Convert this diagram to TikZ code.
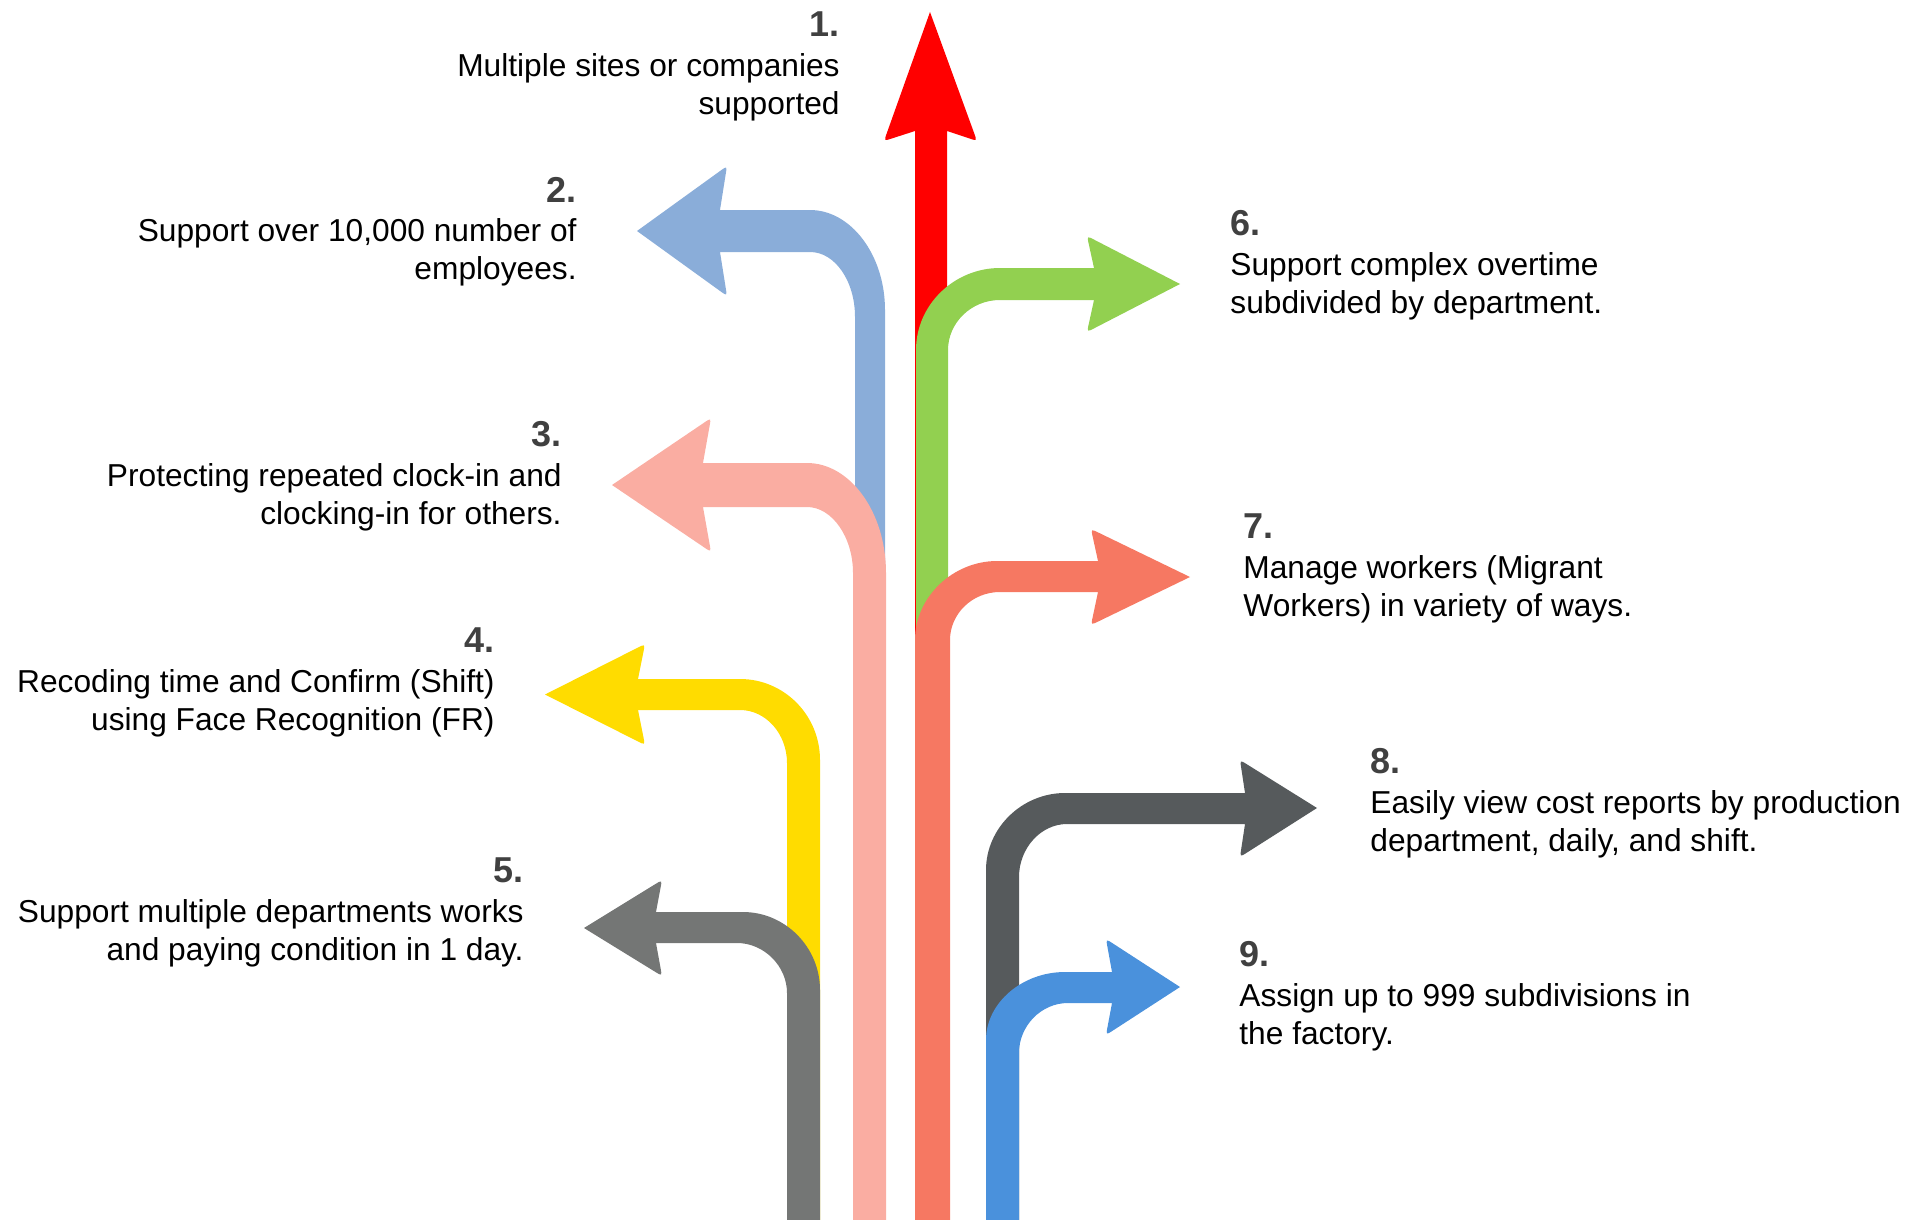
\documentclass[tikz,border=0pt]{standalone}
\usepackage{fontspec}
\setmainfont{Liberation Sans}
\usetikzlibrary{calc}
\definecolor{cRed}{HTML}{FF0000}
\definecolor{cBlueA}{HTML}{8AADD9}
\definecolor{cPink}{HTML}{FAADA2}
\definecolor{cYellow}{HTML}{FFDC00}
\definecolor{cGrayA}{HTML}{747675}
\definecolor{cGreen}{HTML}{92D050}
\definecolor{cCoral}{HTML}{F67862}
\definecolor{cGrayB}{HTML}{565A5C}
\definecolor{cBlueB}{HTML}{4A91DC}
\definecolor{cNum}{HTML}{404040}
\begin{document}
\begin{tikzpicture}[x=0.5pt,y=-0.5pt,
  numlbl/.style={inner sep=0pt, text=cNum, font=\fontsize{18pt}{21pt}\selectfont\bfseries},
  txtlbl/.style={inner sep=0pt, text=black, font=\fontsize{15.85pt}{19pt}\selectfont},
  leftlbl/.style={anchor=base east},
  rightlbl/.style={anchor=base west}]
\useasboundingbox (0,0) rectangle (1921,1220);

% ---------- 1 red (up) ----------
\coordinate (t1) at (930,12);
\coordinate (w1a) at (884,141);
\coordinate (w1b) at (977,141);
\coordinate (n1a) at (915,131);
\coordinate (n1b) at (947,131);
\fill[cRed] (915,1220) -- (n1a) -- ($(w1a)!4pt!(n1a)$) .. controls (w1a) .. ($(w1a)!4pt!(t1)$) -- (t1)
  -- ($(w1b)!4pt!(t1)$) .. controls (w1b) .. ($(w1b)!4pt!(n1b)$) -- (n1b) -- (947,1220) -- cycle;

% ---------- 6 green (right) ----------
\coordinate (t6) at (1180,284);
\coordinate (w6a) at (1087,236);
\coordinate (n6a) at (1094,268);
\coordinate (n6b) at (1094,300);
\coordinate (w6b) at (1087,332);
\fill[cGreen] (916,1220) -- (916,350) .. controls (916,305) and (954,268) .. (1000,268) -- (n6a)
  -- ($(w6a)!4pt!(n6a)$) .. controls (w6a) .. ($(w6a)!4pt!(t6)$) -- (t6)
  -- ($(w6b)!4pt!(t6)$) .. controls (w6b) .. ($(w6b)!4pt!(n6b)$) -- (n6b)
  -- (1000,300) .. controls (971,300) and (948,323) .. (948,350) -- (948,1220) -- cycle;

% ---------- 7 coral (right) ----------
\coordinate (t7) at (1190,577);
\coordinate (w7a) at (1091,529);
\coordinate (n7a) at (1098,561);
\coordinate (n7b) at (1098,592);
\coordinate (w7b) at (1091,625);
\fill[cCoral] (915,1220) -- (915,640) .. controls (915,597) and (953,561) .. (997,561) -- (n7a)
  -- ($(w7a)!4pt!(n7a)$) .. controls (w7a) .. ($(w7a)!4pt!(t7)$) -- (t7)
  -- ($(w7b)!4pt!(t7)$) .. controls (w7b) .. ($(w7b)!4pt!(n7b)$) -- (n7b)
  -- (1000,592) .. controls (972,592) and (950,614) .. (950,640) -- (950,1220) -- cycle;

% ---------- 2 light blue (left) ----------
\coordinate (t2) at (637,231);
\coordinate (w2a) at (727,166);
\coordinate (n2a) at (720,210);
\coordinate (n2b) at (720,252);
\coordinate (w2b) at (727,296);
\fill[cBlueA] (855,1220) -- (855,317) .. controls (855,281) and (835,252) .. (810,252) -- (n2b)
  -- ($(w2b)!4pt!(n2b)$) .. controls (w2b) .. ($(w2b)!4pt!(t2)$) -- (t2)
  -- ($(w2a)!4pt!(t2)$) .. controls (w2a) .. ($(w2a)!4pt!(n2a)$) -- (n2a)
  -- (810,210) .. controls (851,210) and (885,255) .. (885,310) -- (885,1220) -- cycle;

% ---------- 3 pink (left) ----------
\coordinate (t3) at (612,485);
\coordinate (w3a) at (711,418);
\coordinate (n3a) at (703,463);
\coordinate (n3b) at (703,507);
\coordinate (w3b) at (711,552);
\fill[cPink] (853,1220) -- (853,573) .. controls (853,537) and (832,507) .. (807,507) -- (n3b)
  -- ($(w3b)!4pt!(n3b)$) .. controls (w3b) .. ($(w3b)!4pt!(t3)$) -- (t3)
  -- ($(w3a)!4pt!(t3)$) .. controls (w3a) .. ($(w3a)!4pt!(n3a)$) -- (n3a)
  -- (807,463) .. controls (850,463) and (886,512) .. (886,573) -- (886,1220) -- cycle;

% ---------- 4 yellow (left) ----------
\coordinate (t4) at (545,694.5);
\coordinate (w4a) at (645,644);
\coordinate (n4a) at (638,679);
\coordinate (n4b) at (638,710);
\coordinate (w4b) at (645,745);
\fill[cYellow] (787,1220) -- (787,763) .. controls (787,734) and (766,710) .. (740,710) -- (n4b)
  -- ($(w4b)!4pt!(n4b)$) .. controls (w4b) .. ($(w4b)!4pt!(t4)$) -- (t4)
  -- ($(w4a)!4pt!(t4)$) .. controls (w4a) .. ($(w4a)!4pt!(n4a)$) -- (n4a)
  -- (740,679) .. controls (784,679) and (820,715) .. (820,760) -- (820,1220) -- cycle;

% ---------- 5 gray (left) ----------
\coordinate (t5) at (584,928);
\coordinate (w5a) at (662,880);
\coordinate (n5a) at (656,912);
\coordinate (n5b) at (656,943);
\coordinate (w5b) at (662,976);
\fill[cGrayA] (787,1220) -- (787,993) .. controls (787,966) and (764,943) .. (737,943) -- (n5b)
  -- ($(w5b)!4pt!(n5b)$) .. controls (w5b) .. ($(w5b)!4pt!(t5)$) -- (t5)
  -- ($(w5a)!4pt!(t5)$) .. controls (w5a) .. ($(w5a)!4pt!(n5a)$) -- (n5a)
  -- (743,912) .. controls (785,912) and (820,947) .. (820,990) -- (820,1220) -- cycle;

% ---------- 8 dark gray (right) ----------
\coordinate (t8) at (1317,808);
\coordinate (w8a) at (1240,760);
\coordinate (n8a) at (1245,793);
\coordinate (n8b) at (1245,824);
\coordinate (w8b) at (1240,857);
\fill[cGrayB] (986,1220) -- (986,870) .. controls (986,828) and (1022,793) .. (1065,793) -- (n8a)
  -- ($(w8a)!4pt!(n8a)$) .. controls (w8a) .. ($(w8a)!4pt!(t8)$) -- (t8)
  -- ($(w8b)!4pt!(t8)$) .. controls (w8b) .. ($(w8b)!4pt!(n8b)$) -- (n8b)
  -- (1067,824) .. controls (1041,824) and (1019,848) .. (1019,877) -- (1019,1220) -- cycle;

% ---------- 9 blue (right) ----------
\coordinate (t9) at (1180,987);
\coordinate (w9a) at (1106,939);
\coordinate (n9a) at (1112,972);
\coordinate (n9b) at (1112,1003);
\coordinate (w9b) at (1106,1035);
\fill[cBlueB] (986,1220) -- (986,1040) .. controls (986,1003) and (1022,972) .. (1065,972) -- (n9a)
  -- ($(w9a)!4pt!(n9a)$) .. controls (w9a) .. ($(w9a)!4pt!(t9)$) -- (t9)
  -- ($(w9b)!4pt!(t9)$) .. controls (w9b) .. ($(w9b)!4pt!(n9b)$) -- (n9b)
  -- (1068,1003) .. controls (1041,1003) and (1019,1026) .. (1019,1053) -- (1019,1220) -- cycle;

% ---------- labels ----------
\node[numlbl,leftlbl] (num1) at (840,37) {1.};
\node[txtlbl,leftlbl] (l1a) at (840,76.5) {Multiple sites or companies};
\node[txtlbl,leftlbl] (l1b) at (840,114.5) {supported};

\node[numlbl,leftlbl] (num2) at (577,202) {2.};
\node[txtlbl,leftlbl] (l2a) at (577,241.5) {Support over 10,000 number of};
\node[txtlbl,leftlbl] (l2b) at (577,279.5) {employees.};

\node[numlbl,leftlbl] (num3) at (562,446.5) {3.};
\node[txtlbl,leftlbl] (l3a) at (562,486.5) {Protecting repeated clock-in and};
\node[txtlbl,leftlbl] (l3b) at (562,524.5) {clocking-in for others.};

\node[numlbl,leftlbl] (num4) at (495,652.5) {4.};
\node[txtlbl,leftlbl] (l4a) at (495,692.5) {Recoding time and Confirm (Shift)};
\node[txtlbl,leftlbl] (l4b) at (495,730.5) {using Face Recognition (FR)};

\node[numlbl,leftlbl] (num5) at (524,882.5) {5.};
\node[txtlbl,leftlbl] (l5a) at (524,922.5) {Support multiple departments works};
\node[txtlbl,leftlbl] (l5b) at (524,960.5) {and paying condition in 1 day.};

\node[numlbl,rightlbl] (num6) at (1230,235) {6.};
\node[txtlbl,rightlbl] (l6a) at (1230,275.5) {Support complex overtime};
\node[txtlbl,rightlbl] (l6b) at (1230,313.5) {subdivided by department.};

\node[numlbl,rightlbl] (num7) at (1243,538) {7.};
\node[txtlbl,rightlbl] (l7a) at (1243,578) {Manage workers (Migrant};
\node[txtlbl,rightlbl] (l7b) at (1243,616) {Workers) in variety of ways.};

\node[numlbl,rightlbl] (num8) at (1370,773) {8.};
\node[txtlbl,rightlbl] (l8a) at (1370,813) {Easily view cost reports by production};
\node[txtlbl,rightlbl] (l8b) at (1370,851) {department, daily, and shift.};

\node[numlbl,rightlbl] (num9) at (1239,966) {9.};
\node[txtlbl,rightlbl] (l9a) at (1239,1006) {Assign up to 999 subdivisions in};
\node[txtlbl,rightlbl] (l9b) at (1239,1044) {the factory.};
\end{tikzpicture}
\end{document}
